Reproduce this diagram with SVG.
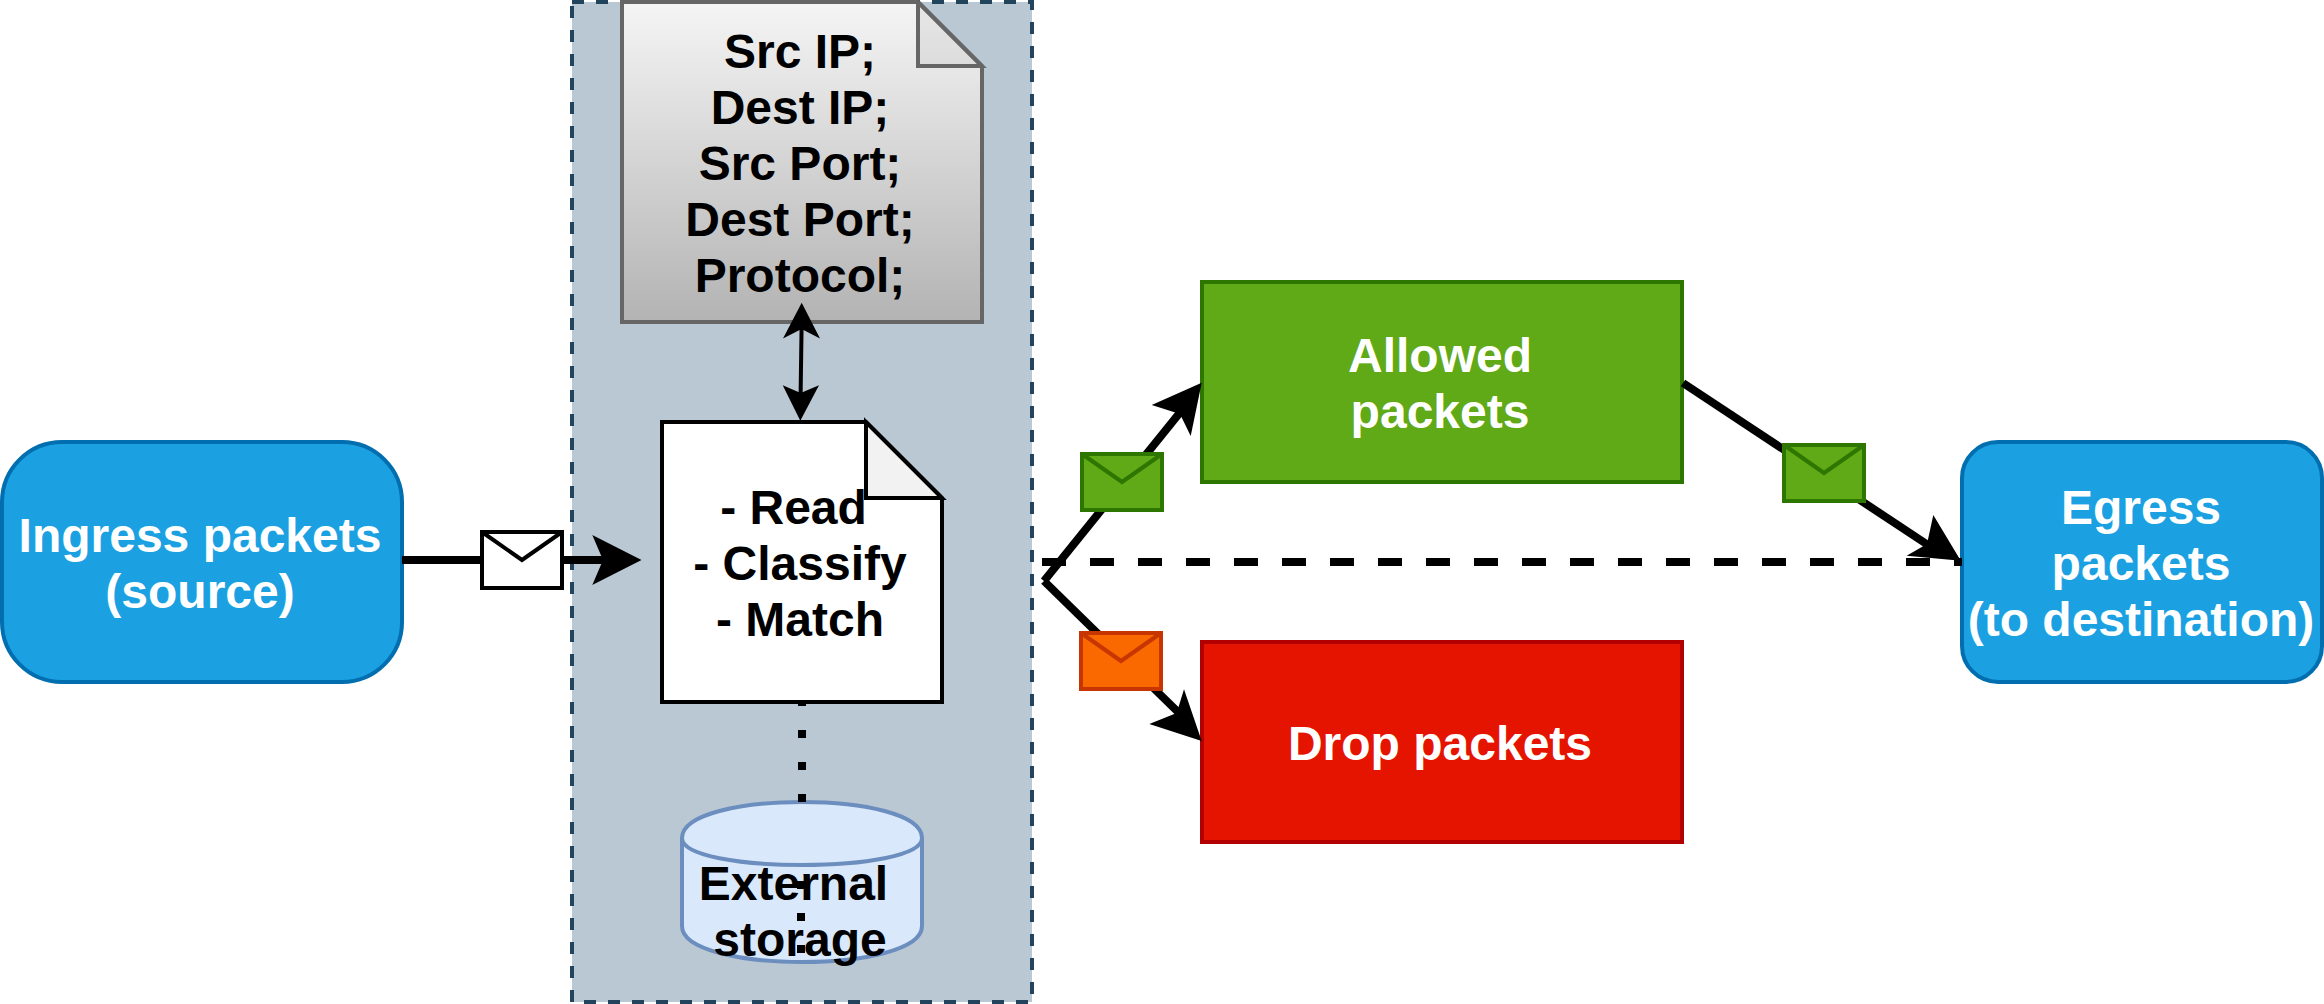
<svg xmlns="http://www.w3.org/2000/svg" width="2324" height="1004" viewBox="0 0 2324 1004">
<style>
text{font-family:"Liberation Sans",Arial,sans-serif;font-weight:700;font-size:48px;text-anchor:middle}
.w{fill:#fff}.k{fill:#000}
.blue{fill:#1ba1e2;stroke:#006eaf;stroke-width:4}
.line{fill:none;stroke:#000;stroke-width:8}
.env{stroke-width:4;stroke-linejoin:miter}
.g{fill:#60a917;stroke:#2d7600}
.fold{fill:#000;fill-opacity:.05}
</style>
<defs>
<linearGradient id="grey" x1="0" y1="0" x2="0" y2="1"><stop offset="0" stop-color="#f5f5f5"/><stop offset="1" stop-color="#b3b3b3"/></linearGradient>
</defs>
<rect width="2324" height="1004" fill="#fff"/>
<g id="container"><rect x="572" y="2" width="460" height="1000" fill="#bac8d3" stroke="#23445d" stroke-width="4" stroke-dasharray="12 12"/></g>
<g id="rules-doc">
<path d="M622 2H918L982 66V322H622Z" fill="url(#grey)" stroke="#666" stroke-width="4"/>
<path d="M918 2V66H982Z" class="fold" stroke="#666" stroke-width="4" stroke-opacity="1"/>
<text x="800" y="67.5" class="k">Src IP;</text>
<text x="800" y="123.5" class="k">Dest IP;</text>
<text x="800" y="179.5" class="k">Src Port;</text>
<text x="800" y="235.5" class="k">Dest Port;</text>
<text x="800" y="291.5" class="k">Protocol;</text>
</g>
<g id="classifier">
<path d="M662 422H866L942 498V702H662Z" fill="#fff" stroke="#000" stroke-width="4"/>
<path d="M866 422V498H942Z" fill="#f2f2f2" stroke="#000" stroke-width="4"/>
<text x="793.5" y="524" class="k">- Read</text>
<text x="800" y="580" class="k">- Classify</text>
<text x="800" y="636" class="k">- Match</text>
</g>
<g id="storage">
<path d="M682 838C682 790 922 790 922 838V926C922 974 682 974 682 926Z" fill="#dae8fc" stroke="#6c8ebf" stroke-width="4"/>
<path d="M682 838C682 874 922 874 922 838" fill="none" stroke="#6c8ebf" stroke-width="4"/>
<text x="793.5" y="899.5" class="k">External</text>
<text x="800" y="955.5" class="k">storage</text>
</g>
<g id="ingress"><rect x="2" y="442" width="400" height="240" rx="60" ry="60" class="blue"/>
<text x="200" y="552" class="w">Ingress packets</text>
<text x="200" y="608" class="w">(source)</text></g>
<g id="allowed"><rect x="1202" y="282" width="480" height="200" fill="#60a917" stroke="#2d7600" stroke-width="4"/>
<text x="1440" y="372" class="w">Allowed</text>
<text x="1440" y="428" class="w">packets</text></g>
<g id="drop"><rect x="1202" y="642" width="480" height="200" fill="#e51400" stroke="#b20000" stroke-width="4"/>
<text x="1440" y="760" class="w">Drop packets</text></g>
<g id="egress"><rect x="1962" y="442" width="360" height="240" rx="36" ry="36" class="blue"/>
<text x="2141" y="524" class="w">Egress</text>
<text x="2141" y="580" class="w">packets</text>
<text x="2141" y="636" class="w">(to destination)</text></g>
<g id="connectors">
<path d="M801.6 326L800.6 394" fill="none" stroke="#000" stroke-width="4"/>
<path d="M801.7 302.7L820 338.5L801.6 329L783 338.5Z" class="k"/>
<path d="M800.3 420.7L782.7 385.3L800.7 393L819 385.3Z" class="k"/>
<path d="M802 702V802" class="line" stroke-dasharray="8 24" stroke-dashoffset="4"/>
<path d="M801 881V953" class="line" stroke-dasharray="8 24"/>
<path d="M402 560H605" class="line"/>
<path d="M641.5 560L592.3 535L603 560L592.3 585Z" class="k"/>
<path d="M1044 581L1182 410" class="line"/>
<path d="M1201.7 382.7L1151.7 405L1180 414L1190.7 436Z" class="k"/>
<path d="M1044 581L1178 712" class="line"/>
<path d="M1201.7 741L1149.3 724L1176.7 713L1184 689.3Z" class="k"/>
<path d="M1683 383L1928 545" class="line"/>
<path d="M1960.8 560.7L1933.3 515L1927 544L1906.6 555.7Z" class="k"/>
<path d="M1042 562H1962" class="line" stroke-dasharray="24 24"/>
</g>
<g id="msg-ingress" class="env"><rect x="482" y="532" width="80" height="56" fill="#fff" stroke="#000" stroke-width="4"/><path d="M482 532L522 560L562 532" fill="none" stroke="#000" stroke-width="4"/></g>
<g id="msg-allowed" class="env g"><rect x="1082" y="454" width="80" height="56"/><path d="M1082 454L1122 482L1162 454" fill="none"/></g>
<g id="msg-drop" class="env"><rect x="1081" y="633" width="80" height="56" fill="#fa6800" stroke="#c73500"/><path d="M1081 633L1121 661L1161 633" fill="none" stroke="#c73500"/></g>
<g id="msg-egress" class="env g"><rect x="1784" y="445" width="80" height="56"/><path d="M1784 445L1824 473L1864 445" fill="none"/></g>
</svg>
